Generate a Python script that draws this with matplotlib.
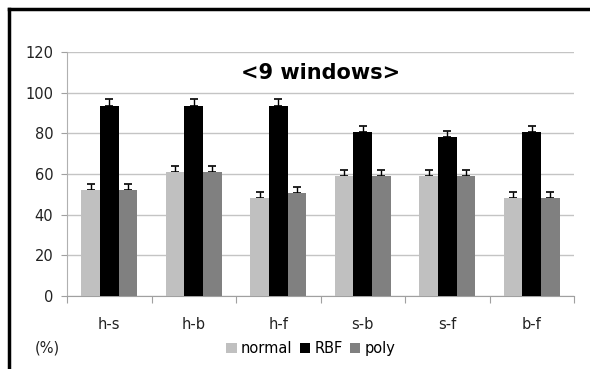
import numpy as np
import matplotlib.pyplot as plt
from matplotlib.patches import Patch
from matplotlib.lines import Line2D

# data
categories = ["h-s", "h-b", "h-f", "s-b", "s-f", "b-f"]
normal = [52, 61, 48, 59, 59, 48]
rbf = [93.5, 93.5, 93.5, 80.5, 78, 80.5]
poly = [52, 61, 50.5, 59, 59, 48]
err_normal = [3, 3, 3, 3, 3, 3]
err_rbf = [3.3, 3.3, 3.3, 3, 3.4, 3]
err_poly = [3, 3, 3, 3, 3, 3]
yticks = [0, 20, 40, 60, 80, 100, 120]

series = [("normal", normal, err_normal, "#c0c0c0"),
          ("RBF", rbf, err_rbf, "#000000"),
          ("poly", poly, err_poly, "#808080")]

fig = plt.figure(figsize=(5.9, 3.69), dpi=100)
ax = fig.add_axes([0.1136, 0.1978, 0.8593, 0.6612])

x = np.arange(len(categories))
w = 0.22
for i, (name, vals, errs, col) in enumerate(series):
    pos = x + (i - 1) * w
    ax.bar(pos, vals, width=w, color=col, zorder=3)
    # error bar drawn under the bar so only the upper half shows
    ax.errorbar(pos, vals, yerr=[np.zeros(len(errs)), errs], fmt='none',
                ecolor='black', elinewidth=1, capsize=3, capthick=1.2, zorder=2)

ax.set_xlim(-0.5, len(categories) - 0.5)
ax.set_ylim(0, 120)
ax.set_yticks(yticks)
ax.set_yticklabels([str(t) for t in yticks], fontsize=10.5, color='#222222')
ax.yaxis.grid(True, color='#c4c4c4', linewidth=1, zorder=0)
ax.set_axisbelow(True)
ax.tick_params(axis='y', length=4, color='#a0a0a0', pad=6)

# category ticks at the group boundaries
ax.set_xticks(np.arange(len(categories) + 1) - 0.5, minor=False)
ax.set_xticklabels([])
ax.tick_params(axis='x', length=5, color='#a0a0a0', direction='out')
for xi, lab in zip(x, categories):
    ax.text(xi, -14, lab, ha='center', va='center', fontsize=10.5, color='#222222')

for s in ['top', 'right']:
    ax.spines[s].set_visible(False)
ax.spines['left'].set_color('#b0b0b0')
ax.spines['bottom'].set_color('#a0a0a0')

ax.text(2.5, 109.5, "<9 windows>", ha='center', va='center', fontsize=15,
        fontweight='bold')

fig.text(0.059, 0.058, "(%)", fontsize=10.5, ha='left', va='center', color='#222222')

handles = [Patch(facecolor=c, edgecolor='none') for _, _, _, c in series]
fig.legend(handles, [s[0] for s in series], loc='center', bbox_to_anchor=(0.527, 0.055),
           ncol=3, frameon=False, fontsize=10.5, handlelength=0.7, handleheight=0.7,
           handletextpad=0.3, columnspacing=0.5, borderpad=0)

# outer frame lines (top and left)
fig.add_artist(Line2D([0.015, 1.0], [0.975, 0.975], color='black', linewidth=2.5))
fig.add_artist(Line2D([0.015, 0.015], [0.0, 0.975], color='black', linewidth=2.5))

fig.savefig("out.png", dpi=100)
